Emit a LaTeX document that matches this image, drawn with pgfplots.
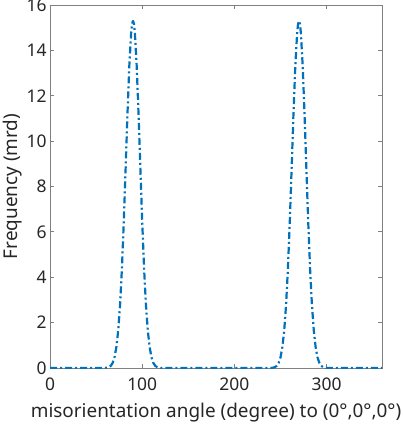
\documentclass[border=0pt]{standalone}
\usepackage{pgfplots}
\pgfplotsset{compat=1.18}
\usepackage{fontspec}
\setmainfont{Noto Sans}
\definecolor{mblue}{rgb}{0,0.447,0.741}
\definecolor{axgray}{rgb}{0.5,0.5,0.5}
\definecolor{txt}{rgb}{0.15,0.15,0.15}
\begin{document}
\begin{tikzpicture}
\begin{axis}[
  at={(0,0)}, anchor=south west,
  scale only axis, width=332bp, height=363bp,
  xmin=0, xmax=360, ymin=0, ymax=16,
  xtick={0,100,200,300}, ytick={0,2,...,16},
  tick align=inside, major tick length=4bp,
  axis line style={axgray, line width=0.8bp},
  every tick/.style={axgray, line width=0.8bp},
  tick label style={font=\fontsize{17.5}{20}\selectfont, text=txt},
  xticklabel style={yshift=-6bp},
  label style={font=\fontsize{19}{22}\selectfont, text=txt},
  /pgf/number format/assume math mode=true,
  xlabel={misorientation angle (degree) to (0°,0°,0°)},
  ylabel={Frequency (mrd)},
  xlabel style={yshift=-6bp},
  ylabel style={yshift=-2bp},
  clip=true,
]
\addplot[mblue, line width=2.2bp, line join=round, dash pattern=on 7bp off 3bp on 2bp off 3bp] coordinates {
(0,0) (56,0) (58,0.002) (60,0.006) (62,0.017) (64,0.044) (66,0.10) (68,0.23) (70,0.48) (72,0.93) (74,1.67) (76,2.80) (78,4.40) (80,6.44) (82,8.79) (84,11.20) (86,13.32) (88,14.78) (89,15.17) (90,15.3) (91,15.17)
(92,14.78) (94,13.32) (96,11.20) (98,8.79) (100,6.44) (102,4.40) (104,2.80) (106,1.67) (108,0.93) (110,0.48) (112,0.23) (114,0.10) (116,0.044) (118,0.017) (120,0.006) (122,0.002) (124,0)
(236,0) (238,0.002) (240,0.006) (242,0.017) (244,0.044) (246,0.10) (248,0.23) (250,0.48) (252,0.93) (254,1.67) (256,2.80) (258,4.40) (260,6.44) (262,8.79) (264,11.20) (266,13.32) (268,14.78) (269,15.17) (270,15.3) (271,15.17)
(272,14.78) (274,13.32) (276,11.20) (278,8.79) (280,6.44) (282,4.40) (284,2.80) (286,1.67) (288,0.93) (290,0.48) (292,0.23) (294,0.10) (296,0.044) (298,0.017) (300,0.006) (302,0.002) (304,0) (360,0)
};
\end{axis}
\pgfresetboundingbox
\path[use as bounding box] (-50bp,-58bp) rectangle (353bp,368bp);
\end{tikzpicture}
\end{document}
